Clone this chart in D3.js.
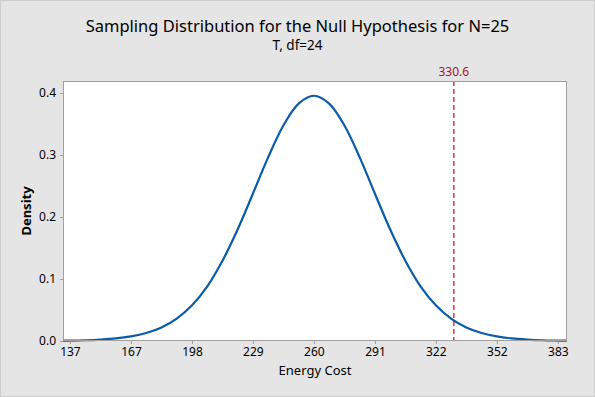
<!DOCTYPE html>
<html>
<head>
<meta charset="utf-8">
<script src="https://cdn.jsdelivr.net/npm/d3@7"></script>
<style>
  html, body { margin: 0; padding: 0; background: #e5e5e5; overflow: hidden; }
  svg { display: block; }
  text { font-family: "Noto Sans", "Open Sans", sans-serif; }
</style>
</head>
<body>
<div id="plot"></div>
<script>
// Width and height
const w = 595;
const h = 397;
const margin = {top: 81, right: 28, bottom: 56, left: 63};
const innerWidth = w - margin.left - margin.right;
const innerHeight = h - margin.top - margin.bottom;

// density curve (Energy Cost vs Density)
const costs = [133.4, 136.9, 144.6, 152.3, 160.0, 167.7, 175.4, 183.1, 190.8, 198.5,
  206.2, 213.8, 221.5, 229.2, 236.9, 244.6, 252.3, 260.0, 267.7, 275.4, 283.1,
  290.8, 298.5, 306.2, 313.8, 321.5, 329.2, 336.9, 344.6, 352.3, 360.0, 367.7,
  375.4, 383.1, 387.7];
const density = [0.0006, 0.0007, 0.0012, 0.0023, 0.0041, 0.0074, 0.0129, 0.0219,
  0.0362, 0.0576, 0.0882, 0.1291, 0.1798, 0.2375, 0.2962, 0.3476, 0.3830, 0.3956,
  0.3830, 0.3476, 0.2962, 0.2375, 0.1798, 0.1291, 0.0882, 0.0576, 0.0362, 0.0219,
  0.0129, 0.0074, 0.0041, 0.0023, 0.0012, 0.0007, 0.0005];

// axis ticks
const xTicks = [136.9, 167.7, 198.5, 229.2, 260, 290.8, 321.5, 352.3, 383.1];
const xTickLabels = ["137", "167", "198", "229", "260", "291", "322", "352", "383"];
const yTicks = [0, 0.1, 0.2, 0.3, 0.4];

// critical value marker
const critical = 330.6;

const svg = d3.select("div#plot")
  .append("svg")
    .attr("width", w)
    .attr("height", h);

// background with a thin frame
svg.append("rect")
  .attr("x", 0.5)
  .attr("y", 0.5)
  .attr("width", w - 1)
  .attr("height", h - 1)
  .attr("fill", "#e5e5e5")
  .attr("stroke", "#cdcdcd");

// titles
svg.append("text")
  .attr("x", w / 2)
  .attr("y", 32)
  .attr("text-anchor", "middle")
  .style("font-size", "16.5px")
  .attr("fill", "#000")
  .text("Sampling Distribution for the Null Hypothesis for N=25");

svg.append("text")
  .attr("x", w / 2)
  .attr("y", 50)
  .attr("text-anchor", "middle")
  .style("font-size", "13.5px")
  .attr("fill", "#000")
  .text("T, df=24");

const plot = svg.append("g")
  .attr("transform", `translate(${margin.left}, ${margin.top})`);

const xScale = d3.scaleLinear()
  .domain([133.4, 387.7])
  .range([0, innerWidth]);

const yScale = d3.scaleLinear()
  .domain([0, 0.4194])
  .range([innerHeight, 0]);

// plot area
plot.append("rect")
  .attr("width", innerWidth)
  .attr("height", innerHeight)
  .attr("fill", "white");

// density curve
const points = costs.map((c, i) => [c, density[i]]);
const line = d3.line()
  .x(d => xScale(d[0]))
  .y(d => yScale(d[1]))
  .curve(d3.curveCatmullRom);

plot.append("path")
  .datum(points)
  .attr("d", line)
  .attr("fill", "none")
  .attr("stroke", "#0b5ba8")
  .attr("stroke-width", 2.2);

// dashed reference line
plot.append("line")
  .attr("x1", xScale(critical))
  .attr("x2", xScale(critical))
  .attr("y1", 0)
  .attr("y2", innerHeight)
  .attr("stroke", "#e00000")
  .attr("stroke-width", 1.2)
  .attr("stroke-dasharray", "5,3");

plot.append("text")
  .attr("x", xScale(critical))
  .attr("y", -5)
  .attr("text-anchor", "middle")
  .style("font-size", "12px")
  .attr("fill", "#a3161c")
  .text(critical);

// frame of the plot area
plot.append("rect")
  .attr("x", 0.5)
  .attr("y", 0.5)
  .attr("width", innerWidth - 1)
  .attr("height", innerHeight - 1)
  .attr("fill", "none")
  .attr("stroke", "#a0a0a0");

// axes
const xAxis = d3.axisBottom(xScale)
  .tickValues(xTicks)
  .tickFormat((d, i) => xTickLabels[i])
  .tickSize(3)
  .tickPadding(3);

const yAxis = d3.axisLeft(yScale)
  .tickValues(yTicks)
  .tickFormat(d3.format(".1f"))
  .tickSize(3)
  .tickPadding(4);

const gx = plot.append("g")
  .attr("transform", `translate(0, ${innerHeight})`)
  .call(xAxis);

const gy = plot.append("g")
  .call(yAxis);

[gx, gy].forEach(g => {
  g.select(".domain").remove();
  g.selectAll(".tick line").attr("stroke", "#a0a0a0");
  g.selectAll(".tick text")
    .attr("fill", "#000")
    .style("font-size", "12px")
    .style("font-family", "'Noto Sans', sans-serif");
});

// axis labels
plot.append("text")
  .attr("x", innerWidth / 2)
  .attr("y", innerHeight + 34)
  .attr("text-anchor", "middle")
  .style("font-size", "13px")
  .attr("fill", "#000")
  .text("Energy Cost");

plot.append("text")
  .attr("transform", "rotate(-90)")
  .attr("x", -innerHeight / 2)
  .attr("y", -32)
  .attr("text-anchor", "middle")
  .style("font-size", "13px")
  .style("font-weight", "bold")
  .attr("fill", "#000")
  .text("Density");
</script>
</body>
</html>
